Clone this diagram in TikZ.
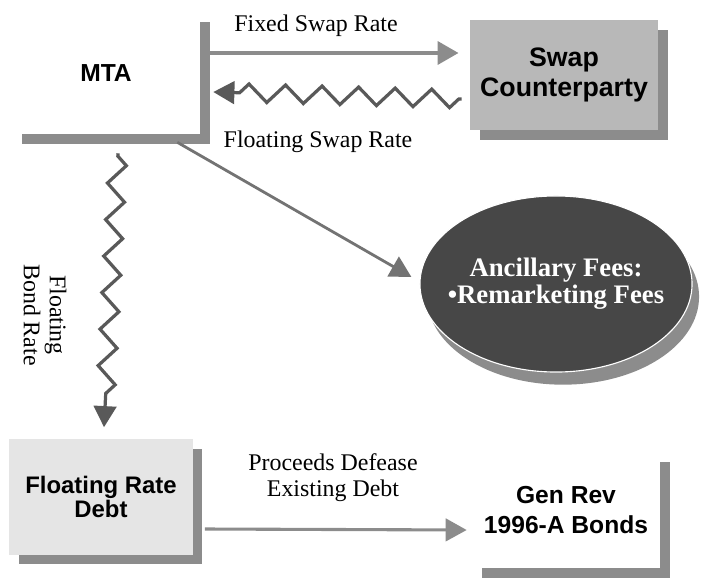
\documentclass[tikz,border=0pt]{standalone}
\usepackage{fontspec}
\setmainfont{Liberation Serif}
\setsansfont{Liberation Sans}
\usetikzlibrary{arrows.meta,shapes.geometric,shadows,decorations.pathmorphing}

\begin{document}
\begin{tikzpicture}[x=0.025cm,y=-0.025cm,
        party/.style={rectangle,minimum width=4.7cm,minimum height=2.9cm,inner sep=0pt,align=center,
            font=\sffamily\bfseries\fontsize{17.5}{21}\selectfont,
            drop shadow={shadow xshift=7pt,shadow yshift=-7pt,fill=black!45,opacity=1}},
        rate/.style={font=\fontsize{17}{18.5}\selectfont,align=center},
        tip/.style={-{Triangle[length=15pt,width=16pt]}},
        wavy/.style={tip,draw=black!65,line width=2.3pt,decorate,
            decoration={zigzag,amplitude=6.4pt,segment length=26pt,pre length=2pt,post length=14pt}}]

    \useasboundingbox (0,0) rectangle (701,577);

    \node[party,fill=white,minimum height=3.05cm] (MTA) at (106,73) {MTA};
    \node[party,fill=black!28,minimum height=2.75cm,
        font=\sffamily\bfseries\fontsize{19}{21}\selectfont] (SC) at (564,75) {Swap\\Counterparty};
    \node[party,fill=black!10,minimum width=4.575cm,minimum height=2.875cm,
        font=\sffamily\bfseries\fontsize{17}{15}\selectfont] (FRD) at (101,497) {Floating Rate\\Debt};
    \node[party,fill=white] (GR) at (566,510) {Gen Rev\\1996-A Bonds};
    \node[ellipse,minimum width=6.8cm,minimum height=4.4cm,inner xsep=-0.6cm,inner ysep=0pt,fill=black!72,
        draw=white,line width=0.8pt,
        drop shadow={shadow xshift=5pt,shadow yshift=-9pt,fill=black!45,opacity=1},
        text=white,font=\bfseries\fontsize{19}{19}\selectfont,align=center] (Fees) at (556,284)
        {Ancillary Fees:\\\textbullet Remarketing Fees};

    \node[rate] (fixed) at (316,26) {Fixed Swap Rate};
    \node[rate] (floatswap) at (318,142) {Floating Swap Rate};
    \node[rate,rotate=-90] (bondrate) at (45,315) {Floating\\Bond Rate};
    \node[rate] (proceeds) at (333,478) {Proceeds Defease\\Existing Debt};

    \draw[tip,draw=black!45,line width=3.5pt] ([shift={(9,-20)}]MTA.east) -- ([shift={(-11,-22)}]SC.west);
    \draw[wavy] ([shift={(-8,24)}]SC.west) -- ([shift={(13,19)}]MTA.east);
    \draw[tip,draw=black!55,line width=2pt] ([shift={(-23,8)}]MTA.south east) -- ([shift={(-8,-7)}]Fees.west);
    \draw[wavy] ([shift={(12,19)}]MTA.south) -- ([shift={(3,-12)}]FRD.north);
    \draw[tip,draw=black!45,line width=2.2pt] ([shift={(12,32)}]FRD.east) -- ([shift={(-5,20)}]GR.west);

\end{tikzpicture}
\end{document}
